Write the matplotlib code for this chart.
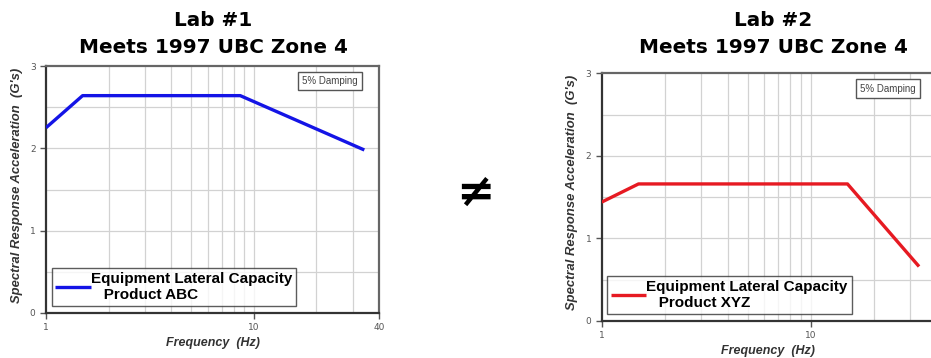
import matplotlib
matplotlib.use("Agg")
import matplotlib.pyplot as plt
from matplotlib.ticker import FixedLocator, NullFormatter

# ---- data ----
freq_lab1 = [1, 1.5, 8.6, 34]
sa_lab1 = [2.25, 2.64, 2.64, 1.98]
freq_lab2 = [1, 1.5, 15, 33]
sa_lab2 = [1.44, 1.66, 1.66, 0.66]
title_line1 = ["Lab #1", "Lab #2"]
title_line2 = "Meets 1997 UBC Zone 4"
legend_labels = ["Equipment Lateral Capacity\n   Product ABC",
                 "Equipment Lateral Capacity\n   Product XYZ"]
x_ticks = [1, 10, 40]
x_ticklabels = ["1", "10", "40"]
y_ticks = [0, 1, 2, 3]
minor_x = [2, 3, 4, 5, 6, 7, 8, 9, 20, 30]
minor_y = [0.5, 1.5, 2.5]
colors = ["#1414e6", "#e61a22"]

fig = plt.figure(figsize=(9.31, 3.58), dpi=100)
W, H = 931, 358

def add_ax(l, r, t, b):
    return fig.add_axes([l / W, 1 - b / H, (r - l) / W, (b - t) / H])

axes = [add_ax(46, 379, 66, 313), add_ax(601.7, 936.5, 73.3, 321)]
series = [(freq_lab1, sa_lab1), (freq_lab2, sa_lab2)]
title_cx = [213, 773]
xlabel_pos = [(213, 343), (768, 351)]
ylabel_pos = [(17, 185), (572, 192)]
damp_pos = [(330, 81), (888, 88.5)]

for i, ax in enumerate(axes):
    f, s = series[i]
    ax.set_xscale("log")
    ax.set_xlim(1, 40)
    ax.set_ylim(0, 3)
    for xv in minor_x + [10]:
        ax.axvline(xv, color="#d2d2d2", lw=0.9, zorder=0)
    for yv in minor_y + [1, 2]:
        ax.axhline(yv, color="#d2d2d2", lw=0.9, zorder=0)
    ln, = ax.plot(f, s, color=colors[i], lw=2.4, solid_capstyle="butt", zorder=3)
    ax.xaxis.set_major_locator(FixedLocator(x_ticks))
    ax.set_xticklabels(x_ticklabels)
    ax.xaxis.set_minor_locator(FixedLocator([]))
    ax.xaxis.set_minor_formatter(NullFormatter())
    ax.set_yticks(y_ticks)
    ax.tick_params(axis="both", labelsize=6.5, labelcolor="#555555", color="#555555",
                   length=4, width=1.0, direction="out")
    for sp in ax.spines.values():
        sp.set_color("#666666")
        sp.set_linewidth(1.6)
    ax.spines["left"].set_color("#333333")
    ax.spines["bottom"].set_color("#333333")

    fig.text(title_cx[i] / W, 1 - 20 / H, title_line1[i], fontsize=14.4,
             fontweight="bold", family="DejaVu Sans", ha="center", va="center")
    fig.text(title_cx[i] / W, 1 - 47.5 / H, title_line2, fontsize=14.4,
             fontweight="bold", family="DejaVu Sans", ha="center", va="center")
    fig.text(ylabel_pos[i][0] / W, 1 - ylabel_pos[i][1] / H,
             "Spectral Response Acceleration  (G's)", fontsize=9.4,
             fontweight="bold", fontstyle="italic", family="Liberation Sans",
             color="#333333", rotation=90, ha="center", va="center")
    fig.text(xlabel_pos[i][0] / W, 1 - xlabel_pos[i][1] / H, "Frequency  (Hz)",
             fontsize=9, fontweight="bold", fontstyle="italic",
             family="Liberation Sans", color="#333333", ha="center", va="center")
    leg = ax.legend([ln], [legend_labels[i]], loc="lower left",
                    bbox_to_anchor=(0.017, 0.03), frameon=True, fancybox=False,
                    prop={"family": "Liberation Sans", "weight": "bold", "size": 11},
                    handlelength=2.3, handletextpad=0.0, borderpad=0.25,
                    borderaxespad=0.0, labelspacing=0.2)
    leg.get_frame().set_edgecolor("#333333")
    leg.get_frame().set_linewidth(1.0)

    fig.text(damp_pos[i][0] / W, 1 - damp_pos[i][1] / H, "5% Damping", fontsize=7,
             family="Liberation Sans", color="#444444", ha="center", va="center",
             bbox=dict(boxstyle="square,pad=0.45", fc="white", ec="#555555", lw=1.0))

fig.text(475 / W, 1 - 193 / H, "≠", fontsize=33, fontweight="bold",
         family="DejaVu Sans", ha="center", va="center")

fig.savefig("out.png", dpi=100)
